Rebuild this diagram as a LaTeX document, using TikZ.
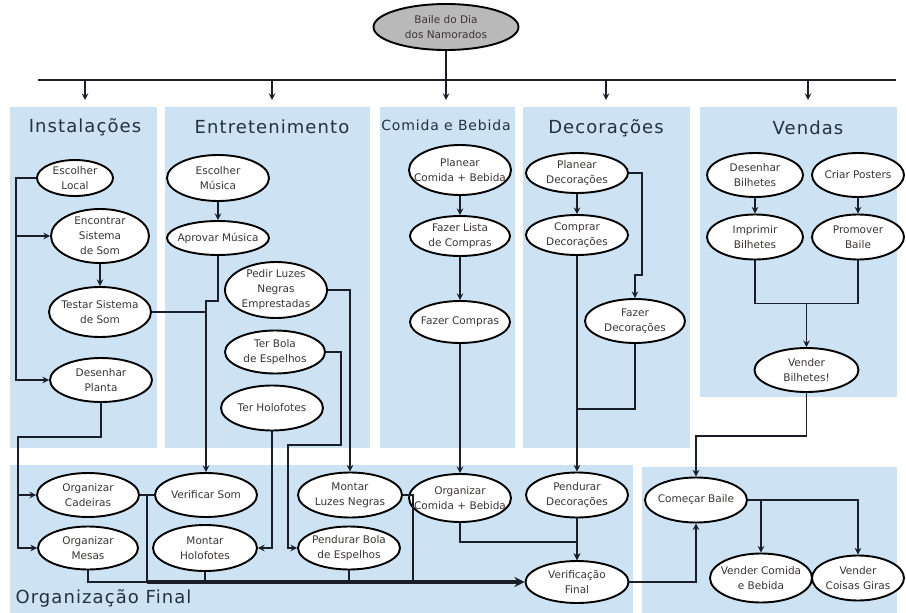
\documentclass[tikz,border=0pt]{standalone}
\usepackage{fontspec}
\setmainfont{DejaVu Sans}
\newfontfamily\titfont[LetterSpace=6]{DejaVu Sans}
\usetikzlibrary{shapes.geometric,calc}
\definecolor{azul}{RGB}{205,227,243}
\definecolor{tinta}{RGB}{25,30,40}
\definecolor{texto}{RGB}{60,52,52}
\definecolor{titulo}{RGB}{35,50,65}

\begin{document}
\begin{tikzpicture}[x=1pt,y=-1pt,
  tarefa/.style={ellipse,draw=black,line width=1.9pt,fill=white,inner xsep=-12pt,inner ysep=-3pt,
    minimum width=102pt,minimum height=44pt,align=center,text=texto,
    font=\fontsize{10.5}{15}\selectfont},
  titulo/.style={text=titulo,font=\titfont\fontsize{18}{20}\selectfont},
  liga/.style={draw=tinta,line width=1.9pt},
  seta/.style={liga,-stealth},
  grossa/.style={draw=tinta,line width=3.4pt,-stealth}]
\useasboundingbox (0,0) rectangle (906,613);

% paineis
\fill[azul] (10,107) rectangle (157,448);
\fill[azul] (165,107) rectangle (370,448);
\fill[azul] (380,107) rectangle (515,448);
\fill[azul] (523,107) rectangle (690,448);
\fill[azul] (700,107) rectangle (897,397);
\fill[azul] (10,465) rectangle (633,613);
\fill[azul] (642,467) rectangle (897,613);

% titulos
\node[titulo] (hInst) at (85,127) {Instalações};
\node[titulo] (hEnt) at (272,127) {Entretenimento};
\node[titulo,font=\titfont\fontsize{14}{16}\selectfont] (hCom) at (446,125) {Comida e Bebida};
\node[titulo] (hDec) at (606,128) {Decorações};
\node[titulo] (hVen) at (808,128) {Vendas};
\node[titulo,anchor=west] (hOrg) at (12,598) {Organização Final};

% raiz
\node[tarefa,fill=gray!55,minimum width=145pt,minimum height=46pt] (raiz) at (446,27) {Baile do Dia\\dos Namorados};
\coordinate (topo) at (446,80);
\coordinate (barraE) at (38,80);
\coordinate (barraD) at (896,80);
\draw[liga] (raiz) -- (topo);
\draw[liga] (barraE) -- (barraD);
\foreach \t in {hInst,hEnt,hCom,hDec,hVen}
  \draw[seta] (\t |- topo) -- ++(0,20);

% Instalacoes
\node[tarefa,minimum width=76pt,minimum height=36pt] (el) at (75,178) {Escolher\\Local};
\node[tarefa,minimum width=98pt,minimum height=54pt] (es) at (100,236) {Encontrar\\Sistema\\de Som};
\node[tarefa,minimum height=50pt] (ts) at (100,312) {Testar Sistema\\de Som};
\node[tarefa] (dp) at (101,380) {Desenhar\\Planta};

% Entretenimento
\node[tarefa,minimum height=46pt] (em) at (218,178) {Escolher\\Música};
\node[tarefa,minimum height=34pt] (am) at (218,238) {Aprovar Música};
\node[tarefa,minimum height=56pt] (pl) at (276,290) {Pedir Luzes\\Negras\\Emprestadas};
\node[tarefa,minimum width=100pt,minimum height=43pt] (tb) at (275,352) {Ter Bola\\de Espelhos};
\node[tarefa,minimum height=45pt] (th) at (272,408) {Ter Holofotes};

% Comida e Bebida
\node[tarefa,minimum width=102pt,minimum height=50pt] (pc) at (460,170) {Planear\\Comida + Bebida};
\node[tarefa,minimum width=100pt,minimum height=40pt] (fl) at (460,236) {Fazer Lista\\de Compras};
\node[tarefa,minimum width=100pt,minimum height=42pt] (fc) at (460,322) {Fazer Compras};

% Decoracoes
\node[tarefa,minimum height=40pt] (pd) at (577,173) {Planear\\Decorações};
\node[tarefa,minimum height=40pt] (cd) at (577,235) {Comprar\\Decorações};
\node[tarefa,minimum width=100pt] (fd) at (635,321) {Fazer\\Decorações};

% Vendas
\node[tarefa,minimum width=96pt] (db) at (755,175) {Desenhar\\Bilhetes};
\node[tarefa,minimum width=92pt] (cp) at (858,175) {Criar Posters};
\node[tarefa,minimum width=96pt,minimum height=45pt] (ib) at (755,237) {Imprimir\\Bilhetes};
\node[tarefa,minimum width=92pt,minimum height=45pt] (pb) at (858,237) {Promover\\Baile};
\node[tarefa,minimum width=104pt] (vb) at (806.5,370) {Vender\\Bilhetes!};

% Organizacao Final
\node[tarefa] (oc) at (88,495) {Organizar\\Cadeiras};
\node[tarefa,minimum width=100pt,minimum height=43pt] (om) at (88,548) {Organizar\\Mesas};
\node[tarefa] (vs) at (206,495) {Verificar Som};
\node[tarefa,minimum width=104pt,minimum height=46pt] (mh) at (205,548) {Montar\\Holofotes};
\node[tarefa,minimum width=104pt,minimum height=45pt] (ml) at (350,495) {Montar\\Luzes Negras};
\node[tarefa,minimum height=43pt] (pe) at (349,548) {Pendurar Bola\\de Espelhos};
\node[tarefa,minimum height=48pt] (ocb) at (460,498) {Organizar\\Comida + Bebida};
\node[tarefa,minimum height=45pt] (pdc) at (577,495) {Pendurar\\Decorações};
\node[tarefa,minimum width=103pt,minimum height=42pt] (vf) at (577,582) {Verificação\\Final};

% Comecar
\node[tarefa,minimum height=45pt] (cb) at (696,500) {Começar Baile};
\node[tarefa,minimum height=49pt] (vcb) at (761,578) {Vender Comida\\e Bebida};
\node[tarefa,minimum width=92pt,minimum height=45pt] (vcg) at (858,578) {Vender\\Coisas Giras};

% ligacoes Instalacoes
\coordinate (tr1) at ($(el.west)+(-20,0)$);
\coordinate (tr2) at (18,437);
\draw[seta] (el.west) -- (tr1) |- (es.west);
\draw[seta] (tr1) |- (dp.west);
\draw[seta] (es) -- (ts);
\draw[seta] (dp.south) |- (tr2) |- (oc.west);
\draw[seta] (tr2) |- (om.west);

% ligacoes Entretenimento
\draw[seta] (em) -- (am);
\draw[seta] (am.south) -- ++(0,45) -| (vs.north);
\draw[liga] (ts.east) -- (ts.east -| vs.north);
\draw[seta] (pl.east) -| (ml.north);
\draw[seta] (tb.east) -- ++(15,0) |- ++(-53,93) |- (pe.west);
\draw[seta] (th.south) |- (mh.east);

% ligacoes Comida e Bebida
\draw[seta] (pc) -- (fl);
\draw[seta] (fl) -- (fc);
\draw[seta] (fc) -- (ocb);
\draw[seta] (ocb.south) -- ++(0,19) -| (vf.north);

% ligacoes Decoracoes
\draw[seta] (pd) -- (cd);
\draw[seta] (pd.east) -- ++(13,0) -- ++(0,102) -| (fd.north);
\draw[seta] (cd) -- (pdc);
\draw[liga] (fd.south) -- ++(0,65) coordinate (k1) -- (k1 -| cd.south);
\draw[seta] (pdc) -- (vf);

% ligacoes Vendas
\draw[seta] (db) -- (ib);
\draw[seta] (cp) -- (pb);
\draw[liga] (ib.south) -- ++(0,43) -| (pb.south);
\draw[seta] ($(ib.south)!.5!(pb.south)+(0,43)$) -- (vb);
\draw[seta] (vb.south) -- ++(0,43) -| (cb.north);
\draw[seta] (vf.east) -| (cb.south);
\draw[seta] (cb.east) -| (vcg.north);
\draw[seta] (cb.east -| vcb.north) -- (vcb.north);

% ligacoes Organizacao Final
\coordinate (j1) at ($(oc.east)!.5!(vs.west)$);
\draw[liga] (oc.east) -- (vs.west);
\draw[liga] (om.south) |- (j1 |- vf.west);
\draw[liga] (j1) -- (j1 |- vf.west);
\draw[liga] (mh.south) -- (mh.south |- vf.west);
\draw[liga] (pe.south) -- (pe.south |- vf.west);
\draw[liga] (ml.east) -- ++(10,0) coordinate (k2) -- (k2 |- vf.west);
\draw[grossa] (j1 |- vf.west) -- (vf.west);

\end{tikzpicture}
\end{document}
